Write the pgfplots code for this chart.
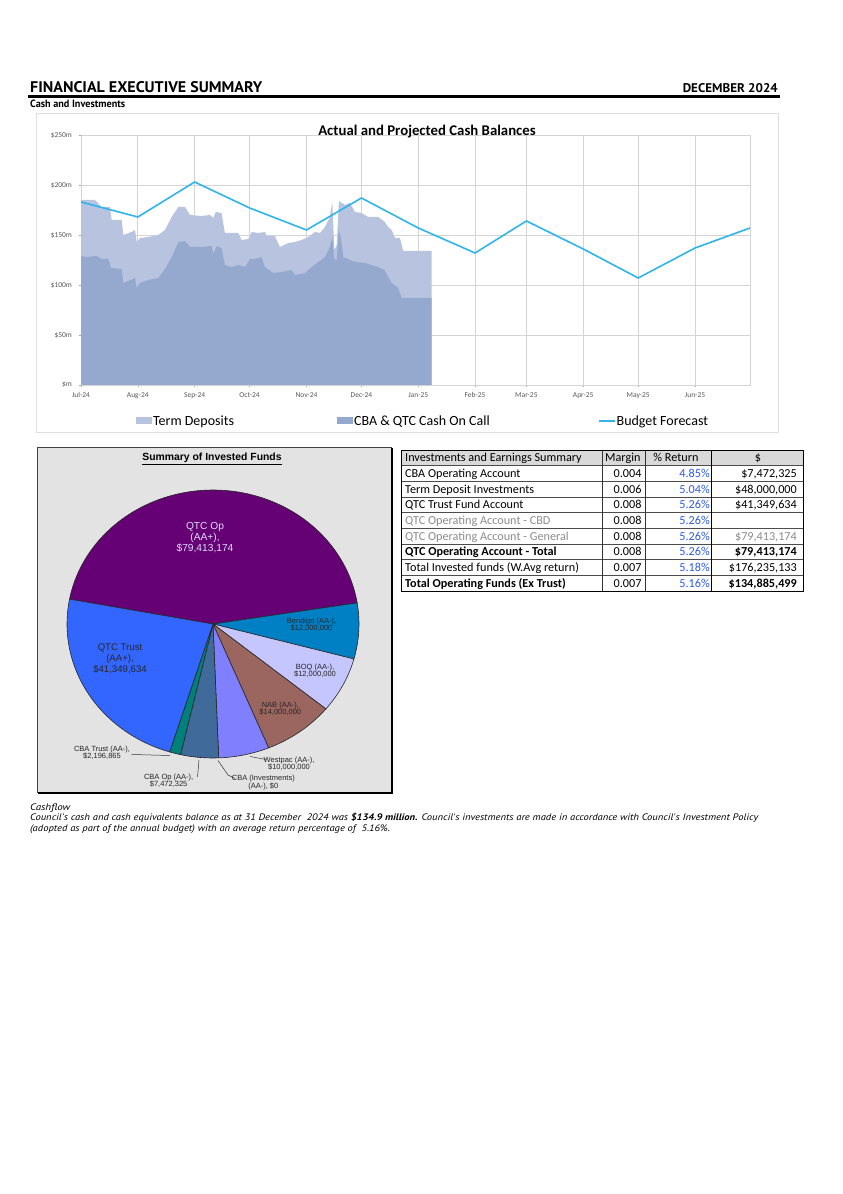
\documentclass[border=0pt]{standalone}
\usepackage{fontspec}
\usepackage{graphicx}
\usepackage{pgfplots}
\usepackage{pgfplotstable}
\pgfplotsset{compat=1.18}
\setmainfont{Liberation Sans}
\newfontfamily\carlito{Carlito}
\newfontfamily\arialf{Liberation Sans}
\newfontfamily\ptsans{PT Sans}
\definecolor{tdcol}{HTML}{B8C4DF}
\definecolor{cashcol}{HTML}{95A9CF}
\definecolor{budcol}{HTML}{2FB4EE}
\definecolor{gridc}{HTML}{D4D4D4}
\definecolor{tickc}{HTML}{595959}
\definecolor{cQop}{HTML}{660075}
\definecolor{cBen}{HTML}{0080C4}
\definecolor{cBOQ}{HTML}{C6C6FF}
\definecolor{cNAB}{HTML}{9B6660}
\definecolor{cWes}{HTML}{8080FF}
\definecolor{cCop}{HTML}{3F6A99}
\definecolor{cCtr}{HTML}{00807A}
\definecolor{cQtr}{HTML}{3366FF}
\definecolor{panel}{HTML}{E3E3E3}
\definecolor{hdrgray}{HTML}{D9D9D9}
\definecolor{pctblue}{HTML}{2E5BE6}
\definecolor{lightgraytxt}{HTML}{8C8C8C}

% Actual total balance (Term Deposits + Cash On Call), $m, x = days since 1 Jul 2024
\pgfplotstableread{
x total
0 185
7.6 185
11.3 178
15.8 178
16.7 165
22.2 165
23.1 150
27.6 153
29.5 155
30.4 143
32.2 147
36.7 148
42.2 150
45.8 155
49.5 168
53.1 178
56.7 178
59.5 170
65.8 169
70.4 170
72.2 167
73.5 173
76.7 172
78.5 152
85.8 152
87.6 145
91.3 146
93.1 153
96.7 152
100.4 153
101.3 149
105.8 149
108.5 138
113.1 142
116.7 143
120.4 145
124 148
127.6 153
130.4 152
133.1 158
135.8 168
137.1 183
138.2 135
139.5 140
140.7 184
144 180
146.7 182
149.5 173
153.1 172
156.7 168
162.2 168
165.8 163
167.6 158
169.5 155
171.3 147
174 147
175.8 134
191.3 134
}\totaltab

% CBA & QTC Cash On Call, $m
\pgfplotstableread{
x cash
0 129
3.1 128
8.5 129
11.3 126
14.9 126
16.4 117
22.2 116
23.1 102
29.5 107
30.4 97
32.2 102
36.7 105
42.2 107
45.8 116
49.5 128
53.1 143
56.7 144
59.5 138
65.8 138
71.3 139
72.2 131
74 139
76.7 137
78.5 120
82.2 118
85.8 120
89.5 118
92.2 126
94.9 126
98.5 128
100.4 118
104.9 112
109.5 113
114.9 115
116.7 110
122.2 112
125.8 118
129.5 123
133.1 128
135.8 138
137.1 148
138.2 126
139.5 125
140.7 155
141.8 148
143.1 128
149.5 123
154.9 122
158.5 120
162.2 118
165.5 115
167.6 108
169.5 102
173.1 97
174.9 87
191.3 87
}\cashtab

% Budget forecast, $m
\pgfplotstableread{
x budget
0 183
31 168
62 203
92 177
123 155
153 187
184 157
215 132
243 164
274 136
304 107
335 137
365 157
}\budtab

% Invested funds ($m)
\def\vQop{79.413174}\def\vBen{12}\def\vBOQ{12}\def\vNAB{14}\def\vWes{10}
\def\vCinv{0}\def\vCop{7.472325}\def\vCtr{2.196865}\def\vQtr{41.349634}
\pgfmathsetmacro\tot{\vQop+\vBen+\vBOQ+\vNAB+\vWes+\vCinv+\vCop+\vCtr+\vQtr}
\pgfmathsetmacro\aA{169.3}
\pgfmathsetmacro\aB{\aA-\vQop/\tot*360}
\pgfmathsetmacro\aC{\aB-\vBen/\tot*360}
\pgfmathsetmacro\aD{\aC-\vBOQ/\tot*360}
\pgfmathsetmacro\aE{\aD-\vNAB/\tot*360}
\pgfmathsetmacro\aF{\aE-\vWes/\tot*360}
\pgfmathsetmacro\aG{\aF-\vCinv/\tot*360}
\pgfmathsetmacro\aH{\aG-\vCop/\tot*360}
\pgfmathsetmacro\aI{\aH-\vCtr/\tot*360}
\pgfmathsetmacro\aJ{\aI-\vQtr/\tot*360}

\begin{document}%
\begin{tikzpicture}[x=1pt,y=1pt]
\useasboundingbox (0,0) rectangle (843,1194);
\fill[white] (0,0) rectangle (843,1194);

% ---------- page furniture (coordinates in pixels from top-left) ----------
\begin{scope}[shift={(0,1194)},yscale=-1]
\node[anchor=base west,inner sep=0] at (30,93) {\resizebox{232pt}{11pt}{\ptsans\bfseries FINANCIAL EXECUTIVE SUMMARY}};
\node[anchor=base east,inner sep=0] at (778,93) {\resizebox{95pt}{9pt}{\ptsans\bfseries DECEMBER 2024}};
\draw[line width=2.5pt] (28,96.5) -- (780,96.5);
\node[anchor=base west,inner sep=0] at (30,107.5) {\resizebox{95pt}{7.5pt}{\ptsans\bfseries Cash and Investments}};
% chart container
\draw[gray!25,line width=0.8pt] (36,113) rectangle (778,432);
% pie panel
\fill[panel] (37,447) rectangle (391,792);
\draw[black!75,line width=0.8pt] (37,447) rectangle (391,792);
\draw[black,line width=2pt] (392,448) -- (392,793) -- (38,793);
\node[anchor=center,inner sep=0] at (212,459) {\fontsize{10.4}{12}\arialf\bfseries\underline{Summary of Invested Funds}};
\end{scope}

% ---------- Actual and projected cash balances ----------
\begin{axis}[
  at={(81pt,809pt)}, anchor=south west, scale only axis,
  width=669pt, height=250pt,
  xmin=0, xmax=365, ymin=0, ymax=250,
  xtick={0,31,62,92,123,153,184,215,243,274,304,335},
  xticklabels={Jul-24,Aug-24,Sep-24,Oct-24,Nov-24,Dec-24,Jan-25,Feb-25,Mar-25,Apr-25,May-25,Jun-25},
  ytick={0,50,100,150,200,250},
  yticklabels={\$m,\$50m,\$100m,\$150m,\$200m,\$250m},
  grid=major, grid style={gridc,line width=0.9pt},
  axis line style={gridc,line width=0.9pt},
  tick style={gray!70,line width=0.5pt}, tick align=outside, major tick length=2.5pt,
  xtick pos=bottom, ytick pos=left,
  ticklabel style={font=\fontsize{7.5}{8}\carlito, text=tickc},
  xticklabel style={anchor=base, yshift=-10.5pt, text height=5.5pt, text depth=1.5pt},
  yticklabel style={xshift=-3pt},
  /pgf/number format/assume math mode=true,
  legend style={at={(axis description cs:0.082,-0.144)}, anchor=west, draw=none, fill=none,
    inner sep=0pt, font=\fontsize{14}{16}\carlito, nodes={inner sep=1pt}},
  legend columns=3, legend cell align=left,
]
\addplot[fill=tdcol, draw=none, area legend,
  legend image code/.code={\fill[tdcol] (0pt,-3.5pt) rectangle (16pt,3.5pt);}]
  table[x=x,y=total] {\totaltab} \closedcycle;
\addlegendentry{\makebox[183pt][l]{Term Deposits}}
\addplot[fill=cashcol, draw=none, area legend,
  legend image code/.code={\fill[cashcol] (0pt,-3.5pt) rectangle (16pt,3.5pt);}]
  table[x=x,y=cash] {\cashtab} \closedcycle;
\addlegendentry{\makebox[243pt][l]{CBA \& QTC Cash On Call}}
\addplot[budcol, line width=1.6pt, mark=none,
  legend image code/.code={\draw[budcol,line width=1.6pt] (0pt,0pt) -- (16pt,0pt);}]
  table[x=x,y=budget] {\budtab};
\addlegendentry{Budget Forecast}
\end{axis}

% ---------- Summary of invested funds (pie) ----------
\begin{axis}[
  at={(67pt,436pt)}, anchor=south west, scale only axis,
  width=292pt, height=268pt, hide axis, clip=false,
  xmin=-1, xmax=1, ymin=-1, ymax=1,
]
\addplot[fill=cQop, draw=black!85, line width=0.6pt, domain=\aB:\aA, samples=80] ({cos(x)},{sin(x)}) -- (axis cs:0,0) -- cycle;
\addplot[fill=cBen, draw=black!85, line width=0.6pt, domain=\aC:\aB, samples=20] ({cos(x)},{sin(x)}) -- (axis cs:0,0) -- cycle;
\addplot[fill=cBOQ, draw=black!85, line width=0.6pt, domain=\aD:\aC, samples=20] ({cos(x)},{sin(x)}) -- (axis cs:0,0) -- cycle;
\addplot[fill=cNAB, draw=black!85, line width=0.6pt, domain=\aE:\aD, samples=20] ({cos(x)},{sin(x)}) -- (axis cs:0,0) -- cycle;
\addplot[fill=cWes, draw=black!85, line width=0.6pt, domain=\aF:\aE, samples=20] ({cos(x)},{sin(x)}) -- (axis cs:0,0) -- cycle;
\addplot[fill=cCop, draw=black!85, line width=0.6pt, domain=\aH:\aG, samples=15] ({cos(x)},{sin(x)}) -- (axis cs:0,0) -- cycle;
\addplot[fill=cCtr, draw=black!85, line width=0.6pt, domain=\aI:\aH, samples=6] ({cos(x)},{sin(x)}) -- (axis cs:0,0) -- cycle;
\addplot[fill=cQtr, draw=black!85, line width=0.6pt, domain=\aJ:\aI, samples=50] ({cos(x)},{sin(x)}) -- (axis cs:0,0) -- cycle;
\end{axis}

\begin{scope}[shift={(0,1194)},yscale=-1]
\node[anchor=center,inner sep=0] at (427,131.5) {\fontsize{14.8}{16}\carlito\bfseries Actual and Projected Cash Balances};
% pie labels
\node[align=center,inner sep=0,text=cBOQ!60!white,font=\fontsize{10.2}{11.2}\arialf] at (205,537.5) {QTC Op\\(AA+),\\\$79,413,174};
\node[align=center,inner sep=0,text=black!85,font=\fontsize{9.6}{11}\arialf] at (120,658.3) {QTC Trust\\(AA+),\\\$41,349,634};
\node[align=center,inner sep=0,text=black!85,font=\fontsize{7.5}{7.6}\arialf] at (311.5,624.6) {Bendigo (AA-),\\\$12,000,000};
\node[align=center,inner sep=0,text=black!85,font=\fontsize{7.5}{7.6}\arialf] at (315,670.8) {BOQ (AA-),\\\$12,000,000};
\node[align=center,inner sep=0,text=black!85,font=\fontsize{7.5}{7.6}\arialf] at (280.3,708.8) {NAB (AA-),\\\$14,000,000};
\node[align=center,inner sep=0,text=black!85,font=\fontsize{7.5}{7.6}\arialf] at (289,763.8) {Westpac (AA-),\\\$10,000,000};
\node[align=center,inner sep=0,text=black!85,font=\fontsize{7.5}{7.6}\arialf] at (263.3,782.5) {CBA (Investments)\\(AA-), \$0};
\node[align=center,inner sep=0,text=black!85,font=\fontsize{7.5}{7.6}\arialf] at (168.6,780.8) {CBA Op (AA-),\\\$7,472,325};
\node[align=center,inner sep=0,text=black!85,font=\fontsize{7.5}{7.6}\arialf] at (102,752.8) {CBA Trust (AA-),\\\$2,196,865};
\draw[black!80,line width=0.5pt] (131.5,754.5) -- (170,755.5);
\draw[black!80,line width=0.5pt] (197.5,777) -- (199,760);
\draw[black!80,line width=0.5pt] (218,760.5) -- (228,775) -- (235,778.5);
\draw[black!80,line width=0.5pt] (250,756.5) -- (266,759.5);

% ---------- table ----------
\fill[hdrgray] (401.7,450) rectangle (803,465.6);
\foreach \yy in {465.6,481.3,497,512.6,528.3,544,559.6,575.3}
  \draw[black!70,line width=0.5pt] (401.7,\yy) -- (803,\yy);
\draw[black!80,line width=0.6pt] (602.3,450) -- (602.3,591);
\draw[black!80,line width=0.6pt] (645.7,450) -- (645.7,591);
\draw[black,line width=1.4pt] (711.7,450) -- (711.7,591);
\draw[black,line width=0.9pt] (401.7,450) rectangle (803,591);
\begin{scope}[every node/.style={inner sep=0,font=\fontsize{12.2}{13}\carlito}]
\node[anchor=base west] at (405,461.8) {Investments and Earnings Summary};
\node[anchor=base west] at (605,461.8) {Margin};
\node[anchor=base] at (676,461.8) {\% Return};
\node[anchor=base] at (758,461.8) {\$};
% rows
\node[anchor=base west] at (405,477.5) {CBA Operating Account};
\node[anchor=base west] at (405,493.2) {Term Deposit Investments};
\node[anchor=base west] at (405,508.8) {QTC Trust Fund Account};
\node[anchor=base west,text=lightgraytxt] at (405,524.5) {QTC Operating Account - CBD};
\node[anchor=base west,text=lightgraytxt] at (405,540.2) {QTC Operating Account - General};
\node[anchor=base west] at (405,555.8) {\bfseries QTC Operating Account - Total};
\node[anchor=base west] at (405,571.5) {Total Invested funds (W.Avg return)};
\node[anchor=base west] at (405,587.2) {\bfseries Total Operating Funds (Ex Trust)};
\foreach \yy/\mm in {477.5/0.004,493.2/0.006,508.8/0.008,524.5/0.008,540.2/0.008,555.8/0.008,571.5/0.007,587.2/0.007}
  \node[anchor=base east] at (641.7,\yy) {\mm};
\foreach \yy/\pp in {477.5/4.85,493.2/5.04,508.8/5.26,524.5/5.26,540.2/5.26,555.8/5.26,571.5/5.18,587.2/5.16}
  \node[anchor=base east,text=pctblue] at (710,\yy) {\pp\%};
\node[anchor=base east] at (797,477.5) {\$7,472,325};
\node[anchor=base east] at (797,493.2) {\$48,000,000};
\node[anchor=base east] at (797,508.8) {\$41,349,634};
\node[anchor=base east,text=lightgraytxt] at (797,540.2) {\$79,413,174};
\node[anchor=base east] at (797,555.8) {\bfseries \$79,413,174};
\node[anchor=base east] at (797,571.5) {\$176,235,133};
\node[anchor=base east] at (797,587.2) {\bfseries \$134,885,499};
\end{scope}

% ---------- cashflow text ----------
\node[anchor=base west,inner sep=0] at (30,810.3) {\resizebox{40pt}{\height}{\fontsize{9.4}{10}\ptsans\itshape Cashflow}};
\node[anchor=base west,inner sep=0] at (30,821) {\resizebox{728pt}{\height}{\fontsize{9.4}{10}\ptsans\itshape Council's cash and cash equivalents balance as at 31 December\ \ 2024 was {\bfseries \$134.9 million.} Council's investments are made in accordance with Council's Investment Policy}};
\node[anchor=base west,inner sep=0] at (30,831.7) {\resizebox{360pt}{\height}{\fontsize{9.4}{10}\ptsans\itshape (adopted as part of the annual budget) with an average return percentage of\ \ 5.16\%.}};
\end{scope}
\end{tikzpicture}%
\end{document}
